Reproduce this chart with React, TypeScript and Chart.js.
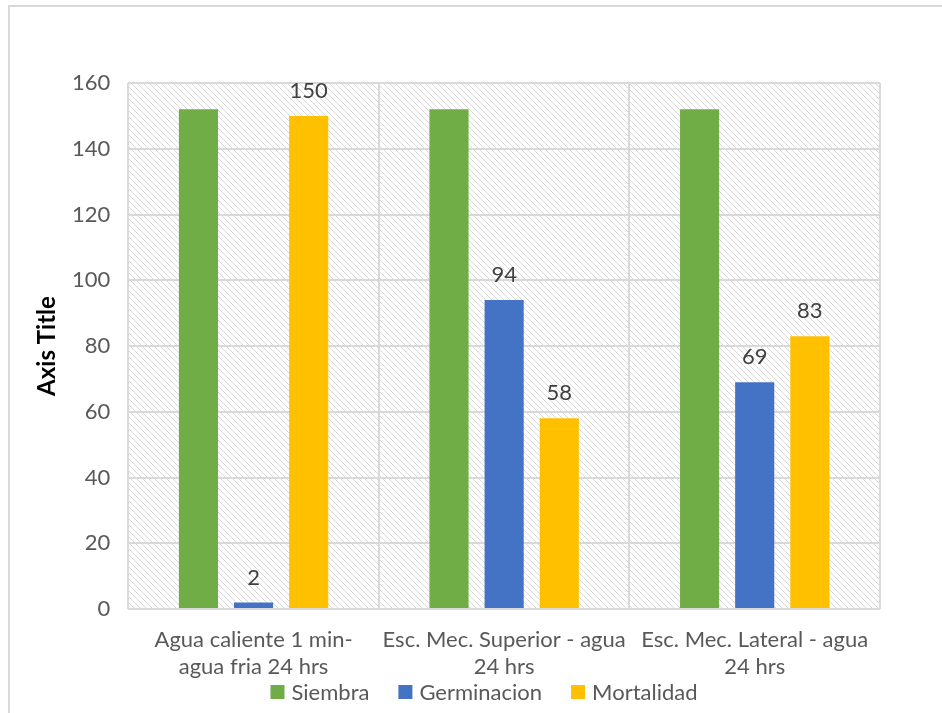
import React, { useEffect, useRef } from "react";
import { Chart, registerables } from "chart.js";

Chart.register(...registerables);

const categories: string[][] = [
  ["Agua caliente 1 min-", "agua fria 24 hrs"],
  ["Esc. Mec. Superior - agua", "24 hrs"],
  ["Esc. Mec. Lateral - agua", "24 hrs"],
];
const seriesNames = ["Siembra", "Germinacion", "Mortalidad"];
const siembra = [152, 152, 152];
const germinacion = [2, 94, 69];
const mortalidad = [150, 58, 83];
const yTicks = { min: 0, max: 160, step: 20 };
const yTitle = "Axis Title";

const FONT = "Lato, 'Open Sans', sans-serif";

function makePattern(): CanvasPattern | string {
  const c = document.createElement("canvas");
  const s = 6;
  c.width = s;
  c.height = s;
  const g = c.getContext("2d");
  if (!g) return "#fff";
  g.fillStyle = "#ffffff";
  g.fillRect(0, 0, s, s);
  g.strokeStyle = "#d9d9d9";
  g.lineWidth = 1;
  g.beginPath();
  g.moveTo(-1, -1);
  g.lineTo(s + 1, s + 1);
  g.moveTo(-1, s - 1);
  g.lineTo(1, s + 1);
  g.moveTo(s - 1, -1);
  g.lineTo(s + 1, 1);
  g.stroke();
  const p = g.createPattern(c, "repeat");
  return p || "#fff";
}

const hatchPlugin = {
  id: "hatchBg",
  beforeDraw(chart: any) {
    const { ctx, chartArea } = chart;
    if (!chartArea) return;
    ctx.save();
    ctx.fillStyle = makePattern();
    ctx.fillRect(chartArea.left, chartArea.top, chartArea.right - chartArea.left, chartArea.bottom - chartArea.top);
    ctx.restore();
  },
};

const labelPlugin = {
  id: "valueLabels",
  afterDatasetsDraw(chart: any) {
    const { ctx } = chart;
    ctx.save();
    ctx.font = `22px ${FONT}`;
    ctx.fillStyle = "#404040";
    ctx.textAlign = "center";
    ctx.textBaseline = "middle";
    [1, 2].forEach((di) => {
      const meta = chart.getDatasetMeta(di);
      meta.data.forEach((bar: any, i: number) => {
        const v = chart.data.datasets[di].data[i];
        ctx.fillText(String(v), bar.x, bar.y - 25);
      });
    });
    ctx.restore();
  },
};

const titleLegendPlugin = {
  id: "titleLegend",
  afterDraw(chart: any) {
    const { ctx, chartArea } = chart;
    ctx.save();
    // y axis title
    ctx.font = `bold 24px ${FONT}`;
    ctx.fillStyle = "#000";
    ctx.textAlign = "center";
    ctx.textBaseline = "middle";
    ctx.translate(47, (chartArea.top + chartArea.bottom) / 2);
    ctx.rotate(-Math.PI / 2);
    ctx.fillText(yTitle, 0, 0);
    ctx.restore();

    // legend
    ctx.save();
    ctx.font = `22px ${FONT}`;
    ctx.textBaseline = "middle";
    ctx.textAlign = "left";
    const box = 14;
    const gapText = 7;
    const gapItem = 29;
    const items = chart.data.datasets.map((d: any) => ({
      label: d.label,
      color: d.backgroundColor,
      w: box + gapText + ctx.measureText(d.label).width,
    }));
    const total = items.reduce((a: number, it: any) => a + it.w, 0) + gapItem * (items.length - 1);
    let x = 484 - total / 2;
    const y = 692;
    items.forEach((it: any) => {
      ctx.fillStyle = it.color;
      ctx.fillRect(x, y - box / 2, box, box);
      ctx.fillStyle = "#595959";
      ctx.fillText(it.label, x + box + gapText, y + 1);
      x += it.w + gapItem;
    });
    ctx.restore();
  },
};

export default function App() {
  const ref = useRef<HTMLCanvasElement>(null);
  useEffect(() => {
    if (!ref.current) return;
    const chart = new Chart(ref.current, {
      type: "bar",
      data: {
        labels: categories,
        datasets: [
          { label: seriesNames[0], data: siembra, backgroundColor: "#70AD47" },
          { label: seriesNames[1], data: germinacion, backgroundColor: "#4472C4" },
          { label: seriesNames[2], data: mortalidad, backgroundColor: "#FFC000" },
        ],
      },
      options: {
        responsive: false,
        animation: false,
        devicePixelRatio: 1,
        categoryPercentage: 0.66,
        barPercentage: 0.71,
        layout: { padding: { left: 54, right: 62, top: 83, bottom: 15 } },
        plugins: {
          tooltip: { enabled: false },
          legend: { display: false },
        },
        scales: {
          x: {
            offset: true,
            grid: { offset: true, color: "#d9d9d9", lineWidth: 2, drawTicks: false },
            border: { display: false },
            ticks: { color: "#595959", font: { family: FONT, size: 22, lineHeight: 1.25 }, padding: 17, maxRotation: 0, autoSkip: false },
          },
          y: {
            min: yTicks.min,
            max: yTicks.max,
            ticks: { stepSize: yTicks.step, color: "#595959", font: { family: FONT, size: 22 }, padding: 18 },
            grid: { color: "#d9d9d9", lineWidth: 2, drawTicks: false },
            border: { display: false },
          },
        },
      },
      plugins: [hatchPlugin, labelPlugin, titleLegendPlugin],
    });
    return () => chart.destroy();
  }, []);
  return (
    <>
      <div
        style={{
          position: "fixed",
          left: 8,
          top: 5,
          width: 960,
          height: 760,
          border: "2px solid #d9d9d9",
          boxSizing: "border-box",
        }}
      />
      <canvas
        ref={ref}
        width={942}
        height={713}
        style={{ position: "fixed", left: 0, top: 0, display: "block" }}
      />
    </>
  );
}
